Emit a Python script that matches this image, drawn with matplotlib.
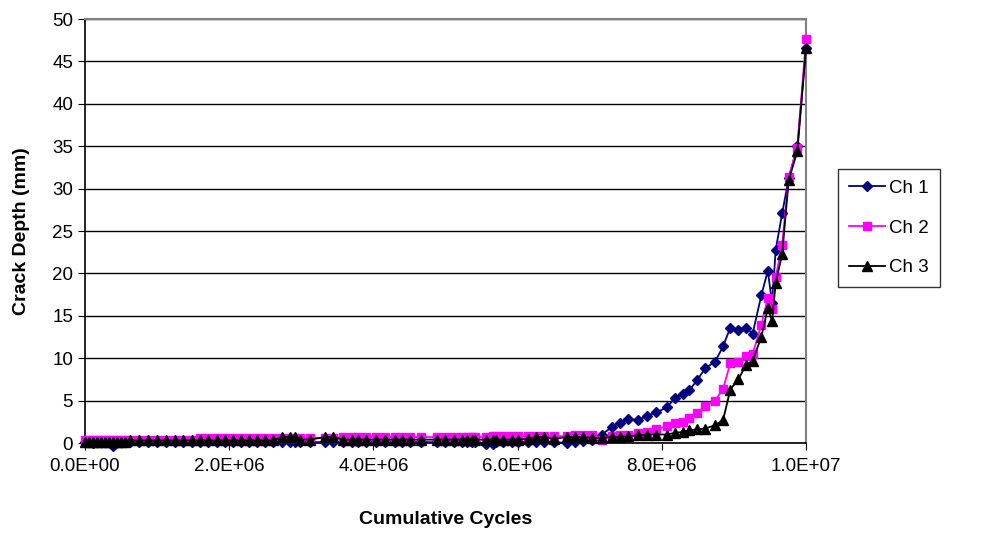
import numpy as np
import matplotlib.pyplot as plt
from matplotlib.ticker import FuncFormatter

plt.rcParams['font.family'] = ['Liberation Sans', 'DejaVu Sans']

# cumulative cycles (millions), same readings for all three channels
cycles = [0.00, 0.055, 0.11, 0.17, 0.22, 0.28, 0.33, 0.39, 0.44, 0.50,
          0.55, 0.62, 0.75, 0.87, 1.00, 1.12, 1.25, 1.36, 1.48, 1.60,
          1.71, 1.83, 1.94, 2.05, 2.16, 2.27, 2.39, 2.50, 2.61, 2.73,
          2.84, 2.91, 2.98, 3.12, 3.33, 3.44, 3.58, 3.70, 3.79, 3.90,
          4.04, 4.16, 4.30, 4.40, 4.51, 4.66, 4.88, 4.99, 5.12, 5.23,
          5.30, 5.37, 5.41, 5.56, 5.66, 5.70, 5.80, 5.92, 6.01, 6.14,
          6.26, 6.37, 6.50, 6.69, 6.80, 6.91, 7.03, 7.17, 7.31, 7.42,
          7.53, 7.67, 7.79, 7.92, 8.07, 8.18, 8.29, 8.38, 8.49, 8.60,
          8.74, 8.85, 8.95, 9.06, 9.17, 9.26, 9.38, 9.47, 9.53, 9.58,
          9.67, 9.76, 9.88, 10.00]

ch1 = [0.1, 0.1, 0.0, 0.1, 0.1, 0.1, 0.1, -0.3, 0.1, 0.1,
       0.1, 0.1, 0.1, 0.1, 0.1, 0.1, 0.1, 0.1, 0.1, 0.1,
       0.1, 0.1, 0.1, 0.1, 0.1, 0.1, 0.1, 0.1, 0.1, 0.1,
       0.1, 0.1, 0.1, 0.1, 0.1, 0.1, 0.1, 0.1, 0.1, 0.1,
       0.1, 0.1, 0.1, 0.1, 0.1, 0.1, 0.1, 0.1, 0.1, 0.1,
       0.1, 0.1, 0.1, -0.1, -0.1, 0.1, 0.1, 0.1, 0.1, 0.1,
       0.1, 0.1, 0.1, 0.0, 0.1, 0.2, 0.4, 1.0, 1.9, 2.4,
       2.8, 2.7, 3.2, 3.6, 4.2, 5.3, 5.8, 6.2, 7.4, 8.8,
       9.6, 11.4, 13.6, 13.3, 13.6, 12.9, 17.4, 20.3, 16.5, 22.8,
       27.1, 31.2, 35.0, 46.6]

ch2 = [0.35, 0.35, 0.35, 0.35, 0.35, 0.35, 0.35, 0.35, 0.35, 0.35,
       0.35, 0.35, 0.35, 0.35, 0.35, 0.35, 0.35, 0.35, 0.35, 0.6,
       0.6, 0.6, 0.6, 0.6, 0.6, 0.6, 0.6, 0.6, 0.6, 0.6,
       0.6, 0.6, 0.6, 0.6, 0.6, 0.6, 0.7, 0.7, 0.7, 0.7,
       0.7, 0.7, 0.7, 0.7, 0.7, 0.7, 0.7, 0.7, 0.7, 0.7,
       0.7, 0.7, 0.7, 0.7, 0.8, 0.8, 0.8, 0.8, 0.8, 0.8,
       0.8, 0.8, 0.8, 0.8, 0.9, 0.9, 0.9, 0.4, 0.8, 0.9,
       1.0, 1.2, 1.3, 1.6, 2.0, 2.3, 2.5, 3.0, 3.5, 4.4,
       5.0, 6.4, 9.4, 9.6, 10.3, 10.5, 13.9, 17.1, 15.8, 19.6,
       23.4, 31.4, 34.8, 47.6]

ch3 = [0.15, 0.15, 0.15, 0.15, 0.15, 0.15, 0.15, 0.15, 0.15, 0.15,
       0.15, 0.3, 0.3, 0.3, 0.3, 0.3, 0.3, 0.3, 0.3, 0.3,
       0.3, 0.3, 0.3, 0.3, 0.3, 0.3, 0.3, 0.3, 0.3, 0.7,
       0.7, 0.7, 0.4, 0.4, 0.7, 0.7, 0.4, 0.4, 0.4, 0.4,
       0.4, 0.4, 0.4, 0.4, 0.4, 0.4, 0.4, 0.4, 0.4, 0.4,
       0.4, 0.4, 0.4, 0.4, 0.4, 0.4, 0.4, 0.4, 0.4, 0.5,
       0.7, 0.7, 0.5, 0.7, 0.7, 0.7, 0.6, 0.6, 0.7, 0.7,
       0.8, 0.9, 1.0, 1.0, 1.0, 1.2, 1.3, 1.5, 1.6, 1.7,
       2.1, 2.7, 6.3, 7.5, 9.2, 9.7, 12.5, 15.9, 14.4, 18.9,
       22.3, 31.0, 34.4, 46.6]

x = np.array(cycles) * 1e6

fig = plt.figure(figsize=(9.85, 5.36), dpi=100)
ax = fig.add_axes([85 / 985, 1 - 443 / 536, (806 - 85) / 985, (443 - 19) / 536])

ax.plot(x, ch1, color='#000080', marker='D', markersize=5.5, lw=1.3, label='Ch 1', clip_on=False, zorder=3)
ax.plot(x, ch2, color='#FF00FF', marker='s', markersize=6, lw=1.3, label='Ch 2', clip_on=False, zorder=4)
ax.plot(x, ch3, color='black', marker='^', markersize=7, lw=1.3, label='Ch 3', clip_on=False, zorder=5)

ax.set_xlim(0, 1e7)
ax.set_ylim(0, 50)
ax.set_xticks(np.arange(0, 1.01e7, 2e6))
ax.set_yticks(np.arange(0, 51, 5))
ax.xaxis.set_major_formatter(FuncFormatter(lambda v, p: f"{v:.1E}"))
ax.yaxis.grid(True, color='black', lw=1)
ax.set_axisbelow(True)
ax.tick_params(direction='out', length=5, labelsize=13.5, colors='black')
ax.tick_params(axis='x', pad=6)

for s in ['top', 'right']:
    ax.spines[s].set_color('#808080')
    ax.spines[s].set_linewidth(1.5)
for s in ['left', 'bottom']:
    ax.spines[s].set_color('black')
    ax.spines[s].set_linewidth(1.2)

ax.set_xlabel('Cumulative Cycles', fontsize=14, fontweight='bold', labelpad=26)
ax.set_ylabel('Crack Depth (mm)', fontsize=14, fontweight='bold', labelpad=16)

leg = fig.legend(loc='center left', bbox_to_anchor=(838 / 985, 1 - 228 / 536), fontsize=13.5,
                 frameon=True, fancybox=False, edgecolor='black', handlelength=1.9,
                 labelspacing=1.2, borderpad=0.6, handletextpad=0.2, borderaxespad=0)
leg.get_frame().set_linewidth(1)

fig.savefig('out.png', dpi=100)
